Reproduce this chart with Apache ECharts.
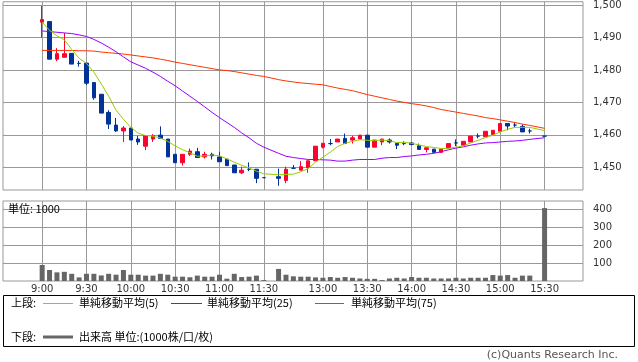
<!DOCTYPE html>
<html><head><meta charset="utf-8">
<script src="https://cdn.jsdelivr.net/npm/echarts@6/dist/echarts.min.js"></script>
<style>html,body{margin:0;padding:0;background:#fff}#c{width:638px;height:362px}</style>
</head><body><div id="c"></div>
<script>
// 5-minute slots (0 = 9:00, 30 = 11:30, 32 = 12:30, 68 = 15:30)
const slots = [0,1,2,3,4,5,6,7,8,9,10,11,12,13,14,15,16,17,18,19,20,21,22,23,24,25,26,27,28,29,30,
  32,33,34,35,36,37,38,39,40,41,42,43,44,45,46,47,48,49,50,51,52,53,54,55,56,57,58,59,60,61,62,63,64,65,66,68];
const openP = [1494.7,1494.9,1483.3,1483.9,1485.1,1482.0,1482.1,1476.1,1472.5,1466.9,1463.0,1461.2,1462.1,1458.7,1456.5,1458.7,1459.9,1458.7,1454.0,1451.4,1454.0,1454.8,1453.2,1454.0,1453.2,1452.5,1450.7,1448.3,1449.4,1449.4,1446.8,
  1447.1,1445.9,1449.7,1449.1,1449.9,1452.0,1456.2,1457.3,1457.8,1458.9,1458.4,1458.7,1459.9,1456.2,1457.8,1458.4,1457.4,1457.3,1457.5,1456.6,1455.5,1455.6,1454.6,1456.0,1457.5,1456.8,1457.8,1459.6,1459.4,1460.1,1461.1,1463.5,1463.0,1462.6,1461.2,1459.6];
const closeP = [1495.5,1483.3,1485.0,1485.0,1481.8,1482.0,1475.9,1471.4,1466.7,1463.3,1461.2,1462.1,1458.4,1457.8,1459.7,1459.7,1458.9,1453.2,1451.4,1454.0,1455.0,1453.0,1454.0,1453.5,1451.7,1450.5,1448.3,1449.1,1449.4,1446.6,1446.8,
  1446.6,1449.4,1449.7,1450.2,1452.0,1456.5,1457.4,1457.3,1458.7,1457.3,1459.1,1459.9,1456.2,1458.4,1458.7,1457.8,1456.8,1457.3,1457.0,1455.5,1456.0,1454.6,1455.6,1457.3,1457.5,1458.0,1459.6,1459.6,1461.1,1461.4,1463.5,1462.7,1463.0,1460.9,1461.2,1459.6];
const lowP = [1489.9,1483.3,1482.7,1483.9,1481.8,1481.0,1475.3,1470.8,1466.7,1461.8,1460.9,1457.8,1458.4,1456.9,1455.3,1457.8,1458.9,1453.2,1451.4,1450.5,1453.5,1453.0,1452.7,1452.4,1451.7,1450.5,1448.3,1447.9,1448.8,1445.1,1446.8,
  1444.3,1445.1,1449.7,1449.1,1448.3,1452.0,1455.8,1456.8,1457.8,1457.3,1457.3,1458.7,1456.2,1456.2,1456.8,1457.3,1455.6,1456.8,1456.8,1455.5,1454.6,1454.6,1454.6,1456.0,1456.5,1456.8,1457.8,1458.9,1459.4,1460.1,1461.1,1461.4,1462.3,1460.9,1460.4,1459.6];
const highP = [1499.7,1494.9,1486.7,1491.4,1485.1,1482.8,1482.1,1476.1,1472.5,1467.6,1465.2,1462.7,1462.1,1459.7,1459.7,1460.2,1462.6,1458.7,1454.0,1454.0,1455.8,1456.0,1454.8,1454.5,1454.8,1452.5,1450.7,1450.2,1451.5,1449.4,1446.8,
  1449.6,1450.2,1450.7,1451.9,1452.0,1456.5,1457.4,1458.7,1458.7,1460.4,1459.7,1459.9,1459.9,1458.4,1458.7,1458.9,1457.4,1458.0,1457.8,1457.3,1456.0,1455.6,1455.6,1457.3,1458.6,1458.0,1459.6,1460.4,1461.1,1461.4,1463.5,1463.5,1463.7,1463.2,1461.9,1459.6];
const ma5 = [1494.7,1492.2,1490.5,1489.3,1486.3,1483.6,1482.0,1479.3,1475.7,1471.9,1467.6,1464.8,1462.3,1460.5,1459.8,1459.6,1459.0,1458.0,1456.6,1455.4,1454.5,1453.4,1453.5,1453.8,1453.5,1452.6,1451.6,1450.6,1449.8,1448.8,1448.0,
  1447.7,1447.8,1447.9,1448.6,1449.6,1451.6,1453.1,1454.7,1456.4,1457.4,1458.0,1458.5,1458.3,1458.2,1458.4,1458.2,1457.6,1457.7,1457.4,1456.9,1456.4,1456.1,1455.8,1455.8,1456.2,1456.6,1457.5,1458.3,1459.1,1459.9,1460.9,1461.7,1462.3,1462.3,1462.3,1461.3];
const ma25 = [1492.0,1491.8,1491.6,1491.4,1491.2,1490.8,1490.3,1489.4,1488.3,1487.0,1485.6,1484.0,1482.5,1481.5,1480.5,1479.3,1478.0,1476.5,1475.1,1473.5,1471.9,1470.3,1468.6,1466.9,1465.3,1463.8,1462.3,1460.6,1459.1,1457.4,1456.2,
  1454.3,1453.4,1453.0,1452.7,1452.4,1452.4,1452.3,1452.2,1451.9,1451.9,1452.2,1452.4,1452.4,1452.4,1452.8,1453.0,1453.0,1453.3,1453.5,1453.8,1454.0,1454.3,1454.8,1455.4,1455.9,1456.3,1456.8,1457.2,1457.5,1457.6,1457.8,1458.0,1458.1,1458.3,1458.6,1459.1];
const ma75 = [1486.0,1486.0,1486.0,1486.0,1486.0,1485.9,1485.9,1485.8,1485.5,1485.3,1485.1,1484.9,1484.6,1484.3,1484.0,1483.7,1483.3,1482.9,1482.4,1482.0,1481.6,1481.2,1480.8,1480.4,1480.0,1479.8,1479.5,1479.1,1478.7,1478.3,1478.0,
  1477.0,1476.6,1476.3,1476.0,1475.8,1475.6,1475.4,1474.9,1474.4,1474.0,1473.6,1473.0,1472.4,1471.9,1471.4,1470.9,1470.4,1470.0,1469.6,1469.3,1468.9,1468.4,1467.8,1467.4,1467.0,1466.6,1466.2,1465.8,1465.3,1465.0,1464.6,1464.2,1463.8,1463.3,1462.9,1462.0];
const volume = [89,61,48,51,40,20,40,40,31,40,35,61,35,35,30,30,40,35,24,24,21,30,24,24,35,13,40,22,24,30,5,
  67,35,26,24,24,20,18,22,18,22,18,14,12,12,5,14,18,14,22,18,18,14,14,14,18,14,18,18,18,33,30,33,18,30,30,405];
const tickSlots = [0,6,12,18,24,30,38,44,50,56,62,68];
const tickLabels = ['9:00','9:30','10:00','10:30','11:00','11:30','13:00','13:30','14:00','14:30','15:00','15:30'];
const priceTicks = [1450,1460,1470,1480,1490,1500];
const volTicks = [100,200,300,400];

const UP = '#ff0033', DOWN = '#003399', GRID = '#999999';
const LAT = 'DejaVu Sans', JP = 'Noto Sans CJK JP';

const chart = echarts.init(document.getElementById('c'), null, {renderer: 'canvas'});
const xCommon = {
  type: 'value', min: -5.3, max: 73.2,
  axisLine: {show: false},
  axisTick: {show: false, customValues: tickSlots},
  splitLine: {show: true, lineStyle: {color: GRID, width: 1}}
};
chart.setOption({
  animation: false,
  backgroundColor: '#fff',
  grid: [
    {left: 3, top: 1, width: 580, height: 189, show: true, borderColor: GRID, borderWidth: 1, containLabel: false},
    {left: 3, top: 201, width: 580, height: 80, show: true, borderColor: GRID, borderWidth: 1, containLabel: false}
  ],
  xAxis: [
    Object.assign({gridIndex: 0, axisLabel: {show: false, customValues: tickSlots}}, xCommon),
    Object.assign({gridIndex: 1, axisLabel: {show: true, customValues: tickSlots, margin: 3,
      fontFamily: LAT, fontSize: 10, color: '#333',
      formatter: v => tickLabels[tickSlots.indexOf(v)] || ''}}, xCommon)
  ],
  yAxis: [
    {gridIndex: 0, type: 'value', position: 'right', min: 1443, max: 1501,
     axisLine: {show: false}, axisTick: {show: false, customValues: priceTicks},
     axisLabel: {customValues: priceTicks, margin: 10, fontFamily: LAT, fontSize: 10, color: '#333',
       formatter: v => v.toLocaleString('en-US')},
     splitLine: {show: true, lineStyle: {color: GRID, width: 1}}},
    {gridIndex: 1, type: 'value', position: 'right', min: 0, max: 444.4,
     axisLine: {show: false}, axisTick: {show: false, customValues: volTicks},
     axisLabel: {customValues: volTicks, margin: 10, fontFamily: LAT, fontSize: 10, color: '#333'},
     splitLine: {show: true, lineStyle: {color: GRID, width: 1}}}
  ],
  series: [
    {type: 'candlestick', xAxisIndex: 0, yAxisIndex: 0, barWidth: 4,
     data: slots.map((s, i) => [s, openP[i], closeP[i], lowP[i], highP[i]]),
     encode: {x: 0, y: [1, 2, 3, 4]},
     itemStyle: {color: UP, color0: DOWN, borderColor: UP, borderColor0: DOWN, borderColorDoji: DOWN, borderWidth: 1}},
    {type: 'line', xAxisIndex: 0, yAxisIndex: 0, symbol: 'none', data: slots.map((s, i) => [s, ma75[i]]),
     lineStyle: {color: '#ff3300', width: 1}},
    {type: 'line', xAxisIndex: 0, yAxisIndex: 0, symbol: 'none', data: slots.map((s, i) => [s, ma25[i]]),
     lineStyle: {color: '#9900ff', width: 1}},
    {type: 'line', xAxisIndex: 0, yAxisIndex: 0, symbol: 'none', data: slots.map((s, i) => [s, ma5[i]]),
     lineStyle: {color: '#99cc00', width: 1}},
    {type: 'bar', xAxisIndex: 1, yAxisIndex: 1, barWidth: 5, data: slots.map((s, i) => [s, volume[i]]),
     itemStyle: {color: '#666666'}}
  ],
  graphic: [
    {type: 'text', left: 8, top: 203, z: 100, style: {text: '単位: 1000', font: '11px "' + JP + '"', fill: '#000'}},
    {type: 'rect', shape: {x: 3.5, y: 295.5, width: 631, height: 51}, style: {fill: 'none', stroke: '#000', lineWidth: 1}},
    {type: 'text', x: 11, y: 303, style: {text: '上段:', font: '11px "' + JP + '"', fill: '#000', verticalAlign: 'middle'}},
    {type: 'line', shape: {x1: 43, y1: 303.5, x2: 73, y2: 303.5}, style: {stroke: '#99cc00', lineWidth: 1}},
    {type: 'text', x: 79, y: 303, style: {text: '単純移動平均(5)', font: '11px "' + JP + '"', fill: '#000', verticalAlign: 'middle'}},
    {type: 'line', shape: {x1: 171, y1: 303.5, x2: 202, y2: 303.5}, style: {stroke: '#9900ff', lineWidth: 1}},
    {type: 'text', x: 207, y: 303, style: {text: '単純移動平均(25)', font: '11px "' + JP + '"', fill: '#000', verticalAlign: 'middle'}},
    {type: 'line', shape: {x1: 315, y1: 303.5, x2: 344, y2: 303.5}, style: {stroke: '#ff3300', lineWidth: 1}},
    {type: 'text', x: 351, y: 303, style: {text: '単純移動平均(75)', font: '11px "' + JP + '"', fill: '#000', verticalAlign: 'middle'}},
    {type: 'text', x: 11, y: 337, style: {text: '下段:', font: '11px "' + JP + '"', fill: '#000', verticalAlign: 'middle'}},
    {type: 'line', shape: {x1: 43, y1: 337, x2: 73, y2: 337}, style: {stroke: '#666666', lineWidth: 3}},
    {type: 'text', x: 79, y: 337, style: {text: '出来高 単位:(1000株/口/枚)', font: '11px "' + JP + '"', fill: '#000', verticalAlign: 'middle'}},
    {type: 'text', right: 20, top: 350, style: {text: '(c)Quants Research Inc.', font: '11px "' + LAT + '"', fill: '#555'}}
  ]
});
</script></body></html>
